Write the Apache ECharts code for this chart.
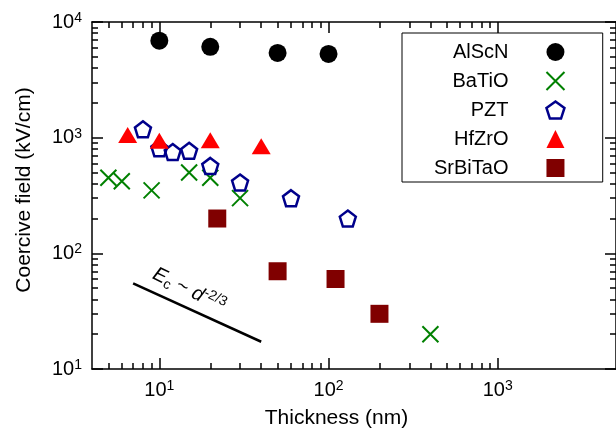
<!DOCTYPE html>
<html><head><meta charset="utf-8">
<script src="https://cdn.jsdelivr.net/npm/echarts@6/dist/echarts.min.js"></script>
<style>html,body{margin:0;padding:0;background:#fff}#c{width:616px;height:434px}</style>
</head><body><div id="c"></div>
<script>
// ---- data ----
const seriesNames = ['AlScN', 'BaTiO', 'PZT', 'HfZrO', 'SrBiTaO'];
const alscnX = [10, 20, 50, 100];
const alscnY = [6900, 6100, 5400, 5300];
const batioX = [5, 6, 9, 15, 20, 30, 400];
const batioY = [450, 420, 350, 500, 450, 300, 20];
const pztX = [8, 10, 12, 15, 20, 30, 60, 130];
const pztY = [1180, 810, 750, 770, 570, 410, 300, 200];
const hfzroX = [6.5, 10, 20, 40];
const hfzroY = [1000, 890, 900, 800];
const srbitaoX = [22, 50, 110, 200];
const srbitaoY = [200, 70, 60, 30];
const fitX = [7, 40];
const fitY = [55, 17.2];
const annotX = [15];
const annotY = [48];
const xRange = [4, 5000];
const yRange = [10, 10000];
const xMajorTicks = [10, 100, 1000];
const xMinorTicks = [5, 6, 7, 8, 9, 20, 30, 40, 50, 60, 70, 80, 90, 200, 300, 400, 500, 600, 700, 800, 900];
const yMajorTicks = [10, 100, 1000, 10000];
const yMinorTicks = [20, 30, 40, 50, 60, 70, 80, 90, 200, 300, 400, 500, 600, 700, 800, 900,
                     2000, 3000, 4000, 5000, 6000, 7000, 8000, 9000];
const xName = 'Thickness (nm)';
const yName = 'Coercive field (kV/cm)';

const zip = (a, b) => a.map((v, i) => [v, b[i]]);
const FONT = '"Liberation Sans", Arial, Helvetica, sans-serif';
const SYM_X = 'path://M0,0L10,10M10,0L0,10';
const SYM_PENT = 'path://M0,-10L9.51,-3.09L5.88,8.09L-5.88,8.09L-9.51,-3.09Z';
const AX = { color: '#000', width: 1.5 };

const powLabel = v => '{b|10}{s|' + Math.round(Math.log10(v)) + '}';
const labelRich = {
  b: { fontSize: 20, lineHeight: 22, color: '#000', fontFamily: FONT },
  s: { fontSize: 14, lineHeight: 14, verticalAlign: 'top', color: '#000', fontFamily: FONT }
};

function axisPair(kind, pos, withLine, majors, minors, extra) {
  const range = kind === 'x' ? xRange : yRange;
  const base = { type: 'log', logBase: 10, min: range[0], max: range[1], position: pos,
    splitLine: { show: false }, minorTick: { show: false } };
  const major = Object.assign({}, base, {
    axisLine: { show: withLine, lineStyle: AX },
    axisTick: { show: true, inside: true, length: 11, customValues: majors, lineStyle: AX },
    axisLabel: { show: false }
  }, extra || {});
  const minor = Object.assign({}, base, {
    axisLine: { show: false },
    axisTick: { show: true, inside: true, length: 6, customValues: minors, lineStyle: AX },
    axisLabel: { show: false }
  });
  return [major, minor];
}

const xAxes = [].concat(
  axisPair('x', 'bottom', true, xMajorTicks, xMinorTicks, {
    axisLabel: { show: true, customValues: xMajorTicks, formatter: powLabel, rich: labelRich, margin: 10 },
    name: xName, nameLocation: 'middle', nameGap: 39,
    nameTextStyle: { fontSize: 21, color: '#000', fontFamily: FONT, padding: [0, 35, 0, 0] }
  }),
  axisPair('x', 'top', true, xMajorTicks, xMinorTicks)
);
const yAxes = [].concat(
  axisPair('y', 'left', true, yMajorTicks, yMinorTicks, {
    axisLabel: { show: true, customValues: yMajorTicks, formatter: powLabel, rich: labelRich, margin: 10 },
    name: yName, nameLocation: 'middle', nameGap: 57,
    nameTextStyle: { fontSize: 21, color: '#000', fontFamily: FONT, padding: [0, 0, 0, 11] }
  }),
  axisPair('y', 'right', true, yMajorTicks, yMinorTicks)
);

const styles = {
  AlScN:   { symbol: 'circle', symbolSize: 18, itemStyle: { color: '#000', borderWidth: 0, opacity: 1 } },
  BaTiO:   { symbol: SYM_X, symbolSize: 16, itemStyle: { color: '#008000', borderColor: '#008000', borderWidth: 2, opacity: 1 } },
  PZT:     { symbol: SYM_PENT, symbolSize: 16, itemStyle: { color: 'rgba(255,255,255,0)', borderColor: '#00008b', borderWidth: 2.5, opacity: 1 } },
  HfZrO:   { symbol: 'triangle', symbolSize: [19, 16], symbolOffset: [0, -2.7], itemStyle: { color: '#ff0000', borderWidth: 0, opacity: 1 } },
  SrBiTaO: { symbol: 'rect', symbolSize: 18, itemStyle: { color: '#800000', borderWidth: 0, opacity: 1 } }
};
const dataSets = { AlScN: [alscnX, alscnY], BaTiO: [batioX, batioY], PZT: [pztX, pztY],
                   HfZrO: [hfzroX, hfzroY], SrBiTaO: [srbitaoX, srbitaoY] };

const series = seriesNames.map(n => Object.assign({
  name: n, type: 'scatter', xAxisIndex: 0, yAxisIndex: 0,
  data: zip(dataSets[n][0], dataSets[n][1]), emphasis: { disabled: true }, z: 3
}, styles[n]));

series.push({
  name: 'fit', type: 'line', data: zip(fitX, fitY), symbol: 'none', silent: true,
  lineStyle: { color: '#000', width: 2.5 }, z: 2
});
series.push({
  name: 'annot', type: 'scatter', data: zip(annotX, annotY), symbolSize: 1, silent: true,
  itemStyle: { color: 'rgba(0,0,0,0)', opacity: 1 },
  label: {
    show: true, position: 'inside', rotate: -26, opacity: 1,
    formatter: '{e|E}{c|c}{t| ~ }{e|d}{p|-2/3}',
    rich: {
      e: { fontSize: 20, fontStyle: 'italic', lineHeight: 24, color: '#000', fontFamily: FONT },
      c: { fontSize: 14, lineHeight: 14, verticalAlign: 'bottom', color: '#000', fontFamily: FONT },
      t: { fontSize: 20, lineHeight: 24, color: '#000', fontFamily: FONT },
      p: { fontSize: 14, lineHeight: 14, verticalAlign: 'top', color: '#000', fontFamily: FONT }
    }
  }
});

const legendData = seriesNames.map(n => ({
  name: n, icon: styles[n].symbol,
  itemStyle: Object.assign({}, styles[n].itemStyle)
}));

const chart = echarts.init(document.getElementById('c'), null, { renderer: 'canvas' });
chart.setOption({
  animation: false,
  textStyle: { fontFamily: FONT },
  grid: { left: 92, top: 22, bottom: 60, right: -5.5, containLabel: false },
  xAxis: xAxes,
  yAxis: yAxes,
  legend: {
    orient: 'vertical', left: 402, top: 33, align: 'right',
    data: legendData, itemWidth: 18, itemHeight: 18, itemGap: 9,
    padding: [9, 37, 4, 32], borderColor: '#000', borderWidth: 1, backgroundColor: '#fff',
    selectedMode: false,
    textStyle: { fontSize: 20, color: '#000', fontFamily: FONT, padding: [0, 33, 0, 0] }
  },
  series: series
});
</script></body></html>
